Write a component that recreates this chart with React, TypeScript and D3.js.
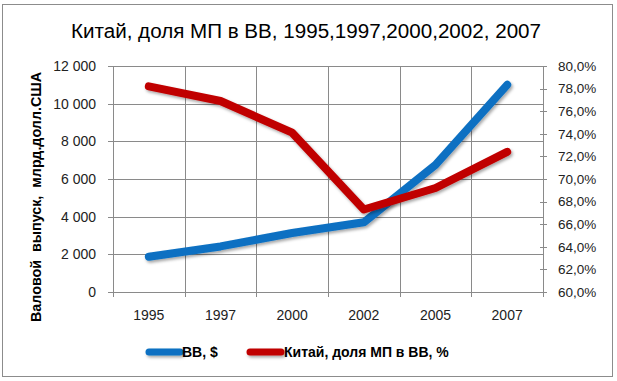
import React from "react";
import * as d3 from "d3";

const years = ["1995", "1997", "2000", "2002", "2005", "2007"];
const outputValues = [1870, 2420, 3130, 3700, 6750, 11000];
const shareValues = [78.2, 76.9, 74.1, 67.3, 69.2, 72.4];
const leftTicks = [0, 2000, 4000, 6000, 8000, 10000, 12000];
const rightTicks = [60, 62, 64, 66, 68, 70, 72, 74, 76, 78, 80];
const seriesNames = ["ВВ, $", "Китай, доля МП в ВВ, %"];
const title = "Китай, доля МП в ВВ, 1995,1997,2000,2002, 2007";
const yTitle = "Валовой  выпуск,  млрд.долл.США";

const W = 617;
const H = 381;
const M = { left: 113, right: 543, top: 66, bottom: 292 };
const BLUE = "#0b70c2";
const RED = "#c00000";
const GRID = "#8a8a8a";
const FONT = "'Liberation Sans', Arial, sans-serif";

const ru = d3.formatLocale({ decimal: ",", thousands: " ", grouping: [3], currency: ["", ""] });
const fmtLeft = ru.format(",.0f");
const fmtRight = (v: number) => ru.format(".1f")(v) + "%";

export default function App() {
  const x = d3.scaleBand<string>().domain(years).range([M.left, M.right]).padding(0);
  const yL = d3.scaleLinear().domain([0, 12000]).range([M.bottom, M.top]);
  const yR = d3.scaleLinear().domain([60, 80]).range([M.bottom, M.top]);
  const cx = (d: string) => (x(d) as number) + x.bandwidth() / 2;

  const lineL = d3.line<number>().x((_, i) => cx(years[i])).y((v) => yL(v));
  const lineR = d3.line<number>().x((_, i) => cx(years[i])).y((v) => yR(v));

  const boundaries = years.map((y) => x(y) as number).concat([M.right]);

  return (
    <svg width={W} height={H} style={{ position: "absolute", left: 0, top: 0, background: "#fff" }}>
      <defs>
        <filter id="sh" filterUnits="userSpaceOnUse" x={0} y={0} width={W} height={H}>
          <feDropShadow dx="1.5" dy="2" stdDeviation="1.5" floodColor="#000" floodOpacity="0.35" />
        </filter>
      </defs>
      <rect x={2.5} y={4.5} width={610} height={372} fill="#fff" stroke="#8c8c8c" strokeWidth={1} />
      <text x={306} y={38} textAnchor="middle" fontFamily={FONT} fontSize={20} textLength={470} lengthAdjust="spacingAndGlyphs" fill="#000">
        {title}
      </text>

      {/* horizontal gridlines */}
      {leftTicks.map((t) => (
        <line key={"h" + t} x1={M.left} x2={M.right} y1={Math.round(yL(t)) + 0.5} y2={Math.round(yL(t)) + 0.5} stroke={GRID} strokeWidth={1} />
      ))}
      {/* vertical gridlines */}
      {boundaries.map((b, i) => (
        <line key={"v" + i} x1={Math.round(b) + 0.5} x2={Math.round(b) + 0.5} y1={M.top} y2={M.bottom + 5} stroke={GRID} strokeWidth={1} />
      ))}
      {/* left ticks */}
      {leftTicks.map((t) => (
        <g key={"l" + t}>
          <line x1={M.left - 5} x2={M.left} y1={Math.round(yL(t)) + 0.5} y2={Math.round(yL(t)) + 0.5} stroke={GRID} />
          <text x={96} y={yL(t)} dy="0.35em" textAnchor="end" fontFamily={FONT} fontSize={14} fill="#222">
            {fmtLeft(t)}
          </text>
        </g>
      ))}
      {/* right axis */}
      {rightTicks.map((t) => (
        <g key={"r" + t}>
          <line x1={M.right - 3} x2={M.right + 4} y1={Math.round(yR(t)) + 0.5} y2={Math.round(yR(t)) + 0.5} stroke={GRID} />
          <text x={558} y={yR(t)} dy="0.35em" textAnchor="start" fontFamily={FONT} fontSize={13.5} fill="#222">
            {fmtRight(t)}
          </text>
        </g>
      ))}
      {/* x labels */}
      {years.map((y) => (
        <text key={"x" + y} x={cx(y)} y={320} textAnchor="middle" fontFamily={FONT} fontSize={14} fill="#222">
          {y}
        </text>
      ))}
      <text
        transform={`translate(41,197) rotate(-90)`}
        textAnchor="middle"
        fontFamily={FONT}
        fontSize={14}
        fontWeight="bold"
        textLength={250}
        lengthAdjust="spacingAndGlyphs"
        fill="#000"
        style={{ whiteSpace: "pre" }}
      >
        {yTitle}
      </text>

      {/* series */}
      <path d={lineL(outputValues) || ""} fill="none" stroke={BLUE} strokeWidth={8} strokeLinecap="round" strokeLinejoin="round" filter="url(#sh)" />
      <path d={lineR(shareValues) || ""} fill="none" stroke={RED} strokeWidth={8} strokeLinecap="round" strokeLinejoin="round" filter="url(#sh)" />

      {/* legend */}
      <line x1={149} x2={180} y1={352} y2={352} stroke={BLUE} strokeWidth={7} strokeLinecap="round" filter="url(#sh)" />
      <text x={182} y={357} fontFamily={FONT} fontSize={14} fontWeight="bold" fill="#000">
        {seriesNames[0]}
      </text>
      <line x1={250} x2={281} y1={352} y2={352} stroke={RED} strokeWidth={7} strokeLinecap="round" filter="url(#sh)" />
      <text x={284} y={357} fontFamily={FONT} fontSize={14} fontWeight="bold" fill="#000">
        {seriesNames[1]}
      </text>
    </svg>
  );
}
